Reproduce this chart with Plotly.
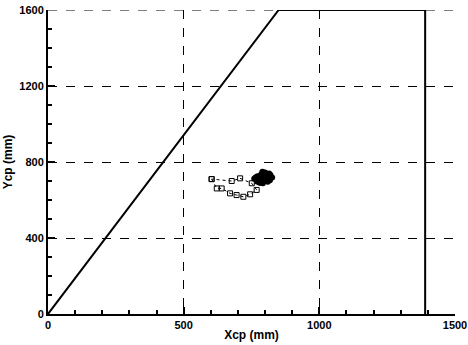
import plotly.graph_objects as go

# Boundary line (mm)
boundary_x = [0, 850, 1390, 1390]
boundary_y = [0, 1600, 1600, 0]

# Centre-of-pressure trace (open squares, dotted)
trace_x = [603, 622, 640, 671, 695, 720, 745, 769, 751, 708, 677, 603]
trace_y = [710, 661, 661, 635, 626, 617, 630, 653, 688, 714, 700, 710]

# Dense cluster of points
cluster_x = [760, 768, 775, 782, 790, 798, 805, 812, 820, 826, 770, 778, 786, 794, 802, 810, 818,
             772, 780, 788, 796, 804, 812, 784, 792, 800, 808, 795, 803, 765, 790, 815]
cluster_y = [712, 720, 705, 728, 716, 700, 724, 710, 732, 718, 698, 692, 735, 742, 738, 696, 704,
             725, 713, 708, 720, 715, 726, 690, 688, 745, 702, 730, 712, 718, 749, 740]

x_ticks = [0, 500, 1000, 1500]
y_ticks = [0, 400, 800, 1200, 1600]
x_range = [0, 1500]
y_range = [0, 1600]

font_b = dict(family="Liberation Sans, Arial, sans-serif", size=11, color="black")

fig = go.Figure()
fig.add_trace(go.Scatter(x=boundary_x, y=boundary_y, mode="lines",
                         line=dict(color="black", width=2), showlegend=False))
fig.add_trace(go.Scatter(x=trace_x, y=trace_y, mode="lines+markers",
                         line=dict(color="black", width=1, dash="dot"),
                         marker=dict(symbol="square-open", size=5, color="black", line=dict(width=1)),
                         showlegend=False))
fig.add_trace(go.Scatter(x=cluster_x, y=cluster_y, mode="markers",
                         marker=dict(symbol="circle", size=6, color="black"),
                         showlegend=False))

# dashed grid line along the top edge (plotly drops edge gridlines)
fig.add_shape(type="line", xref="x", yref="y", x0=x_range[0], x1=x_range[1],
              y0=y_range[1], y1=y_range[1], layer="below",
              line=dict(color="black", width=1, dash="dash"))

fig.update_layout(
    width=468, height=345,
    margin=dict(l=48, r=13, t=10, b=31, autoexpand=False),
    paper_bgcolor="white", plot_bgcolor="white",
    font=font_b,
    xaxis=dict(range=x_range, tickvals=x_ticks, ticktext=[f"<b>{v}</b>" for v in x_ticks],
               showline=True, linecolor="black", linewidth=2, mirror=False,
               ticks="inside", ticklen=7, tickwidth=1.5, tickcolor="black",
               minor=dict(dtick=100, ticks="inside", ticklen=4, tickcolor="black", showgrid=False),
               showgrid=True, gridcolor="black", griddash="dash", gridwidth=1,
               zeroline=False, automargin=False, ticklabeloverflow="allow",
               title=dict(text="<b>Xcp (mm)</b>", font=dict(size=12), standoff=0)),
    yaxis=dict(range=y_range, tickvals=y_ticks, ticktext=[f"<b>{v}</b>" for v in y_ticks],
               showline=True, linecolor="black", linewidth=2, mirror=False,
               ticks="inside", ticklen=7, tickwidth=1.5, tickcolor="black",
               minor=dict(dtick=100, ticks="inside", ticklen=4, tickcolor="black", showgrid=False),
               showgrid=True, gridcolor="black", griddash="dash", gridwidth=1,
               zeroline=False, automargin=False, ticklabeloverflow="allow",
               title=dict(text="<b>Ycp (mm)</b>", font=dict(size=12), standoff=4)),
)

fig.write_html("out.html", config={"displayModeBar": False},
               post_script="document.body.style.margin='0';")
